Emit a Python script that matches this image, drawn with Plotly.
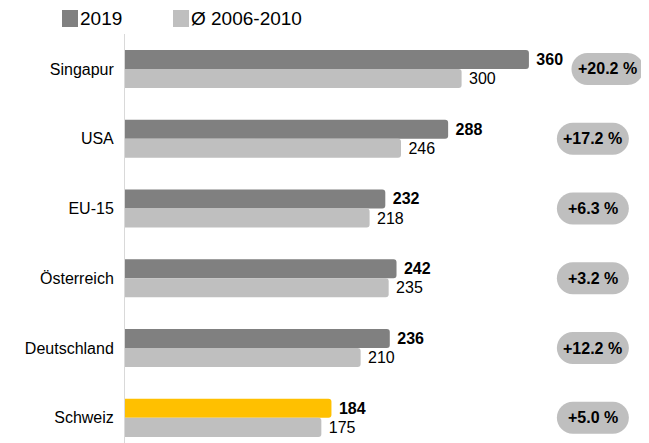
import plotly.graph_objects as go

countries = ["Singapur", "USA", "EU-15", "Österreich", "Deutschland", "Schweiz"]
val_2019 = [360, 288, 232, 242, 236, 184]
val_avg = [300, 246, 218, 235, 210, 175]
change = ["+20.2 %", "+17.2 %", "+6.3 %", "+3.2 %", "+12.2 %", "+5.0 %"]

# the page body has an 8px margin, so the figure starts at (8, 8) on screen
OFF = 8
W, H = 649 - OFF, 443 - OFF
L, T = 125 - OFF, 34 - OFF
DARK, LIGHT, GOLD = "#808080", "#BFBFBF", "#FFC000"
FONT = "Liberation Sans, Arial, sans-serif"
PX_PER_UNIT = 1.122


def paper_x(px):
    # px is a screen position
    return (px - OFF - L) / (W - L)


def paper_y(py):
    return (H - (py - OFF)) / (H - T)


pos = list(range(len(countries)))
colors_2019 = [GOLD if c == "Schweiz" else DARK for c in countries]

fig = go.Figure()
fig.add_bar(
    y=pos, x=val_2019, orientation="h", name="2019",
    marker=dict(color=colors_2019, line=dict(width=0)),
    texttemplate=" %{x}", textposition="outside", cliponaxis=False,
    textfont=dict(family=FONT, size=16, color="black", weight="bold"),
)
fig.add_bar(
    y=pos, x=val_avg, orientation="h", name="Ø 2006-2010",
    marker=dict(color=LIGHT, line=dict(width=0)),
    texttemplate=" %{x}", textposition="outside", cliponaxis=False,
    textfont=dict(family=FONT, size=16, color="black"),
)

# rounded pills with the change in percent
r, half = 16, 20
k = 0.5523 * r
pill = (f"M {-half},{-r} L {half},{-r} "
        f"C {half + k},{-r} {half + r},{-k} {half + r},0 "
        f"C {half + r},{k} {half + k},{r} {half},{r} "
        f"L {-half},{r} "
        f"C {-half - k},{r} {-half - r},{k} {-half - r},0 "
        f"C {-half - r},{-k} {-half - k},{-r} {-half},{-r} Z")
for i, (v, txt) in enumerate(zip(val_2019, change)):
    px_pos = max(417, v + 70)
    fig.add_shape(type="path", path=pill, xref="x", yref="y",
                  xsizemode="pixel", ysizemode="pixel",
                  xanchor=px_pos, yanchor=i,
                  fillcolor=LIGHT, line=dict(width=0), layer="below")
    fig.add_annotation(x=px_pos, y=i, text=f"<b>{txt}</b>", showarrow=False,
                       font=dict(family=FONT, size=16, color="black"))

# legend
for x0, color, label in [(62, DARK, "2019"), (173, LIGHT, "Ø 2006-2010")]:
    fig.add_shape(type="rect", xref="paper", yref="paper",
                  x0=paper_x(x0), x1=paper_x(x0 + 16),
                  y0=paper_y(27), y1=paper_y(10),
                  fillcolor=color, line=dict(width=0))
    fig.add_annotation(xref="paper", yref="paper", x=paper_x(x0 + 16),
                       y=paper_y(18.5), xanchor="left", yanchor="middle",
                       text=label, showarrow=False,
                       font=dict(family=FONT, size=19, color="black"))

fig.update_layout(
    width=W, height=H,
    margin=dict(l=L, r=0, t=T, b=0),
    barmode="group", bargap=0.455, bargroupgap=0, barcornerradius=3,
    showlegend=False,
    paper_bgcolor="white", plot_bgcolor="white",
    font=dict(family=FONT, size=16, color="black"),
    xaxis=dict(range=[0, (W - L) / PX_PER_UNIT], visible=False,
               automargin=False),
    yaxis=dict(range=[5.36, -0.5], tickvals=pos, ticktext=countries,
               showgrid=False, zeroline=False, showline=True,
               linecolor="#D9D9D9", linewidth=1, ticks="",
               ticklabelstandoff=7, automargin=False,
               tickfont=dict(size=16, color="black")),
)

fig.write_html("out.html")
